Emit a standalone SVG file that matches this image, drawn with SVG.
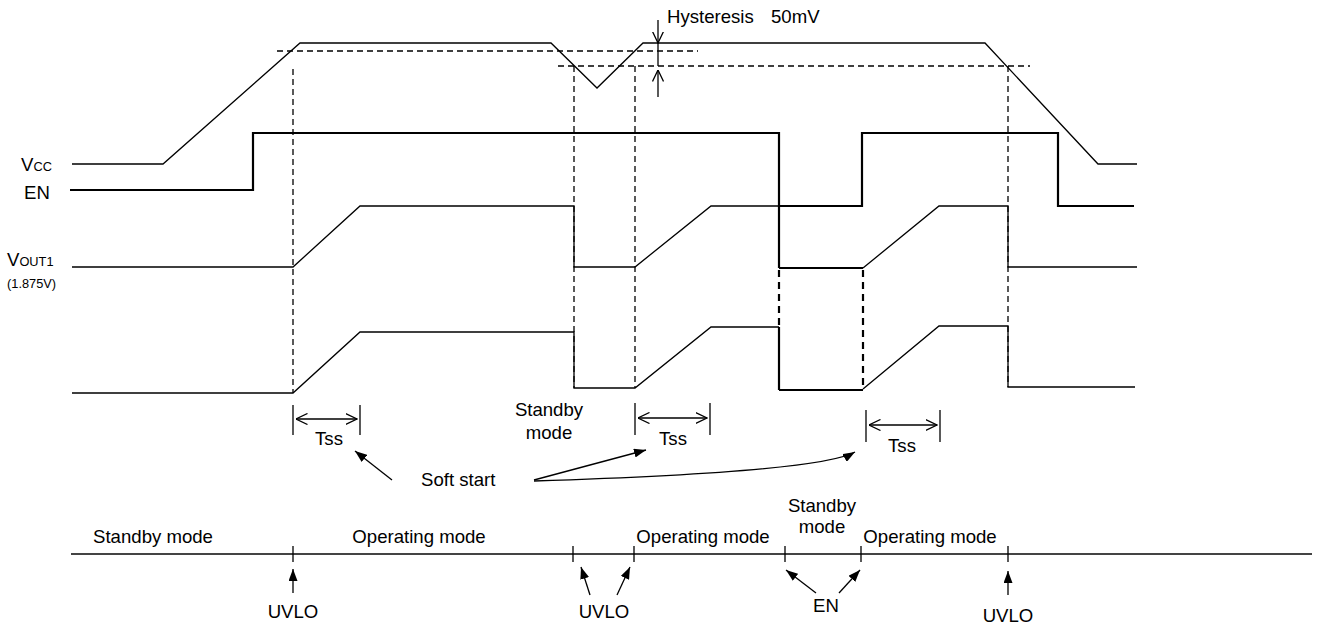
<svg xmlns="http://www.w3.org/2000/svg" width="1319" height="625" viewBox="0 0 1319 625">
<style>
.t{font-family:"Liberation Sans",Arial,sans-serif;font-size:18.6px;fill:#000}
.s{font-size:12.8px}
.c{text-anchor:middle}
.w{fill:none;stroke:#000;stroke-width:1.3}
.en{fill:none;stroke:#000;stroke-width:2.2}
.thk{fill:none;stroke:#000;stroke-width:2.2}
.d{fill:none;stroke:#000;stroke-width:1.3;stroke-dasharray:6 4}
.dt{fill:none;stroke:#000;stroke-width:2.2;stroke-dasharray:7 5}
.ln{fill:none;stroke:#000;stroke-width:1.3}
.ax{fill:none;stroke:#444;stroke-width:2}
</style>
<defs>
<marker id="open" viewBox="0 0 12 12" refX="11.5" refY="6" markerWidth="12" markerHeight="12" markerUnits="userSpaceOnUse" orient="auto-start-reverse">
<path d="M0,0.5 L11.5,6 L0,11.5" fill="none" stroke="#000" stroke-width="1.3"/>
</marker>
<marker id="fill" viewBox="0 0 12 9" refX="12" refY="4.5" markerWidth="12" markerHeight="9" markerUnits="userSpaceOnUse" orient="auto">
<path d="M0,0 L12,4.5 L0,9 z" fill="#000"/>
</marker>
</defs>

<g id="labels">
<text class="t" x="21" y="171">V<tspan class="s">CC</tspan></text>
<text class="t" x="24" y="199">EN</text>
<text class="t" x="7" y="266">V<tspan class="s">OUT1</tspan></text>
<text class="t s" x="7" y="288">(1.875V)</text>
</g>

<g id="thresholds">
<line class="d" x1="277" y1="51" x2="698" y2="51"/>
<line class="d" x1="558" y1="66" x2="1030" y2="66"/>
<line class="d" x1="293" y1="69" x2="293" y2="393"/>
<line class="d" x1="574" y1="66" x2="574" y2="388"/>
<line class="d" x1="635" y1="66" x2="635" y2="388"/>
<line class="d" x1="1008" y1="66" x2="1008" y2="387"/>
</g>

<g id="hysteresis">
<line class="ln" x1="658" y1="20" x2="658" y2="43" marker-end="url(#open)"/>
<line class="ln" x1="658" y1="43" x2="658" y2="66"/>
<line class="ln" x1="658" y1="97" x2="658" y2="70" marker-end="url(#open)"/>
<text class="t" x="667" y="23">Hysteresis<tspan x="771">50mV</tspan></text>
</g>

<g id="vcc">
<polyline class="w" points="72,164 163,164 300,43 551,43 597,88 643,43 985,43 1098,164 1137,164"/>
</g>

<g id="en">
<polyline class="en" points="70,190 253,190 253,133 779,133 779,206 862,206 862,133 1058,133 1058,206 1134,206"/>
</g>

<g id="vout1">
<polyline class="w" points="72,267 293,267 360,206 574,206 574,267 635,267 711,206 779,206"/>
<line class="thk" x1="779" y1="206" x2="779" y2="268"/>
<line class="thk" x1="779" y1="268" x2="863" y2="268"/>
<polyline class="w" points="863,268 939,206 1008,206 1008,267 1137,267"/>
</g>

<g id="vout2">
<polyline class="w" points="72,393 293,393 360,332 574,332 574,388 635,388 711,327 779,327"/>
<line class="thk" x1="779" y1="327" x2="779" y2="390"/>
<line class="thk" x1="779" y1="390" x2="863" y2="390"/>
<polyline class="w" points="863,389 939,326 1008,326 1008,387 1135,387"/>
</g>

<g id="en-off-dashes">
<line class="dt" x1="779" y1="270" x2="779" y2="327"/>
<line class="dt" x1="863" y1="270" x2="863" y2="388"/>
</g>

<g id="tss1">
<line class="ln" x1="293" y1="405" x2="293" y2="435"/>
<line class="ln" x1="360" y1="405" x2="360" y2="435"/>
<line class="ln" x1="296" y1="419" x2="357" y2="419" marker-start="url(#open)" marker-end="url(#open)"/>
<text class="t c" x="329" y="445">Tss</text>
</g>
<g id="tss2">
<line class="ln" x1="635" y1="403" x2="635" y2="435"/>
<line class="ln" x1="710" y1="403" x2="710" y2="435"/>
<line class="ln" x1="638" y1="418" x2="707" y2="418" marker-start="url(#open)" marker-end="url(#open)"/>
<text class="t c" x="673" y="445">Tss</text>
</g>
<g id="tss3">
<line class="ln" x1="866" y1="410" x2="866" y2="442"/>
<line class="ln" x1="940" y1="410" x2="940" y2="442"/>
<line class="ln" x1="869" y1="425" x2="937" y2="425" marker-start="url(#open)" marker-end="url(#open)"/>
<text class="t c" x="902" y="452">Tss</text>
</g>

<g id="standby-upper">
<text class="t c" x="549" y="416">Standby</text>
<text class="t c" x="549" y="439">mode</text>
</g>

<g id="softstart">
<text class="t" x="421" y="486">Soft start</text>
<line class="ln" x1="392" y1="480" x2="355" y2="451" marker-end="url(#fill)"/>
<line class="ln" x1="534" y1="480" x2="646" y2="450" marker-end="url(#fill)"/>
<path class="ln" d="M534,481 Q820,472 855,452" marker-end="url(#fill)"/>
</g>

<g id="timeline">
<line class="ax" x1="71" y1="554" x2="1312" y2="554"/>
<line class="ln" x1="293" y1="546" x2="293" y2="562"/>
<line class="ln" x1="573" y1="546" x2="573" y2="562"/>
<line class="ln" x1="634" y1="546" x2="634" y2="562"/>
<line class="ln" x1="785" y1="546" x2="785" y2="562"/>
<line class="ln" x1="861" y1="546" x2="861" y2="562"/>
<line class="ln" x1="1008" y1="546" x2="1008" y2="562"/>
<text class="t c" x="153" y="543">Standby mode</text>
<text class="t c" x="419" y="543">Operating mode</text>
<text class="t c" x="703" y="543">Operating mode</text>
<text class="t c" x="822" y="512">Standby</text>
<text class="t c" x="822" y="533">mode</text>
<text class="t c" x="930" y="543">Operating mode</text>
</g>

<g id="events">
<line class="ln" x1="293" y1="593" x2="293" y2="569" marker-end="url(#fill)"/>
<text class="t c" x="293" y="618">UVLO</text>
<line class="ln" x1="590" y1="595" x2="581" y2="567" marker-end="url(#fill)"/>
<line class="ln" x1="617" y1="595" x2="630" y2="567" marker-end="url(#fill)"/>
<text class="t c" x="604" y="618">UVLO</text>
<line class="ln" x1="816" y1="593" x2="786" y2="570" marker-end="url(#fill)"/>
<line class="ln" x1="839" y1="593" x2="860" y2="570" marker-end="url(#fill)"/>
<text class="t c" x="826" y="612">EN</text>
<line class="ln" x1="1008" y1="595" x2="1008" y2="571" marker-end="url(#fill)"/>
<text class="t c" x="1008" y="622">UVLO</text>
</g>
</svg>
